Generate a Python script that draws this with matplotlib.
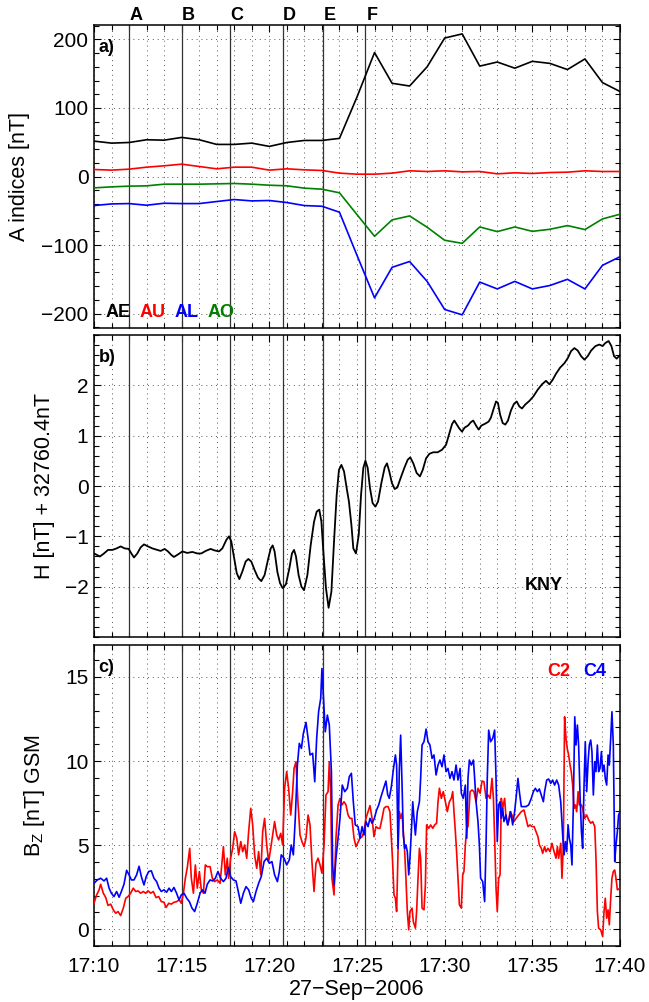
import matplotlib
matplotlib.use("Agg")
import matplotlib.pyplot as plt
from matplotlib.ticker import MultipleLocator, FixedLocator
import matplotlib.transforms as mtransforms

plt.rcParams['font.family'] = ['Liberation Sans', 'DejaVu Sans']

# ---------------- data ----------------
# time axis in minutes after 17:10 UT, 27-Sep-2006
xtick_pos = [0, 5, 10, 15, 20, 25, 30]
xtick_labels = ['17:10', '17:15', '17:20', '17:25', '17:30', '17:35', '17:40']
date_label = '27\u2212Sep\u22122006'

event_names = ['A', 'B', 'C', 'D', 'E', 'F']
event_times = [2.0, 5.0, 7.76, 10.76, 13.04, 15.47]

# panel a: auroral indices, 1-min values
idx_t = list(range(31))
AE = [51.6, 48.7, 49.6, 53.6, 53, 57, 53.6, 46.8, 46.8, 48.7, 43.9, 49.6, 52.6, 52.6,
      55.6, 116, 180.8, 136, 132, 160, 202, 208, 161, 167, 158, 168, 165, 156, 171.5, 137, 124]
AU = [10.2, 9.3, 10.7, 13.6, 15.6, 18, 14.6, 11.2, 13.6, 13.6, 9.3, 11.2, 9.7, 8.8,
      4.9, 3.4, 3.4, 4.9, 8.3, 7.3, 8.3, 6.8, 7.3, 3.9, 5.4, 4.4, 5.8, 6.3, 8.3, 7.3, 7.3]
AL = [-42.4, -40, -39.5, -41.9, -39, -39.5, -39.5, -36.5, -33.6, -35.6, -35, -38, -42.4, -43.4,
      -52.1, -115, -177, -132.5, -124, -153, -194, -201.8, -154, -164, -153, -164, -159, -150,
      -164, -129.6, -117]
AO = [-16.6, -15.1, -14.1, -13.6, -11.2, -11.2, -11.2, -10.7, -10.2, -11.2, -12.7, -13.6, -17,
      -18.5, -23.8, -55.6, -87.2, -63.3, -57.5, -74, -93, -97.5, -73.6, -80.4, -73.6, -80, -77,
      -71.6, -77.4, -61.9, -55]

# panel b: KNY H component
H_t = [0, 0.34, 0.57, 0.80, 1.05, 1.29, 1.52, 1.75, 1.98, 2.13,
       2.28, 2.47, 2.66, 2.85, 3.08, 3.33, 3.61, 3.80, 4.03, 4.22,
       4.41, 4.56, 4.79, 5.04, 5.32, 5.61, 5.89, 6.12, 6.37, 6.65,
       6.88, 7.13, 7.32, 7.55, 7.70, 7.83, 7.98, 8.14, 8.29, 8.46,
       8.65, 8.80, 8.97, 9.16, 9.35, 9.54, 9.73, 9.92, 10.08, 10.19,
       10.30, 10.46, 10.61, 10.76, 10.95, 11.14, 11.29, 11.41, 11.52, 11.67,
       11.83, 11.98, 12.17, 12.36, 12.55, 12.70, 12.85, 12.97, 13.08, 13.23,
       13.38, 13.54, 13.69, 13.84, 13.97, 14.11, 14.26, 14.41, 14.54, 14.68,
       14.79, 14.94, 15.10, 15.23, 15.36, 15.48, 15.61, 15.74, 15.89, 16.05,
       16.20, 16.39, 16.58, 16.71, 16.84, 16.99, 17.15, 17.30, 17.49, 17.70,
       17.89, 18.04, 18.21, 18.40, 18.59, 18.75, 18.94, 19.13, 19.35, 19.60,
       19.85, 20.08, 20.27, 20.42, 20.55, 20.68, 20.84, 20.99, 21.14, 21.33,
       21.50, 21.63, 21.79, 21.94, 22.09, 22.32, 22.51, 22.64, 22.78, 22.93,
       23.04, 23.16, 23.31, 23.46, 23.61, 23.78, 23.95, 24.11, 24.26, 24.41,
       24.60, 24.83, 25.06, 25.30, 25.55, 25.78, 25.97, 26.16, 26.35, 26.58,
       26.83, 27.02, 27.21, 27.40, 27.59, 27.78, 27.97, 28.16, 28.35, 28.60,
       28.82, 29.01, 29.16, 29.35, 29.51, 29.66, 29.81, 30.0]
H_v = [-1.34, -1.40, -1.34, -1.27, -1.27, -1.24, -1.20, -1.24, -1.25, -1.34,
       -1.42, -1.34, -1.22, -1.16, -1.20, -1.24, -1.27, -1.29, -1.25, -1.30,
       -1.37, -1.41, -1.36, -1.30, -1.33, -1.31, -1.34, -1.34, -1.29, -1.25,
       -1.28, -1.30, -1.24, -1.07, -1.00, -1.10, -1.40, -1.73, -1.85, -1.70,
       -1.50, -1.45, -1.50, -1.67, -1.82, -1.89, -1.77, -1.47, -1.24, -1.18,
       -1.30, -1.71, -1.93, -2.03, -1.95, -1.64, -1.34, -1.27, -1.40, -1.77,
       -2.00, -2.07, -1.77, -1.17, -0.71, -0.51, -0.47, -0.71, -1.30, -2.03,
       -2.42, -2.10, -1.10, -0.18, 0.32, 0.42, 0.29, -0.04, -0.31, -0.77,
       -1.24, -1.34, -0.97, -0.18, 0.36, 0.50, 0.36, -0.04, -0.34, -0.41,
       -0.31, 0.06, 0.37, 0.45, 0.29, 0.06, -0.06, -0.03, 0.16, 0.36,
       0.52, 0.57, 0.45, 0.26, 0.19, 0.32, 0.55, 0.64, 0.67, 0.67,
       0.72, 0.82, 1.05, 1.23, 1.30, 1.23, 1.14, 1.08, 1.16, 1.20,
       1.27, 1.30, 1.20, 1.12, 1.20, 1.24, 1.28, 1.36, 1.52, 1.68,
       1.65, 1.42, 1.25, 1.22, 1.30, 1.50, 1.63, 1.68, 1.58, 1.54,
       1.62, 1.69, 1.78, 1.91, 2.02, 2.09, 2.02, 2.11, 2.23, 2.35,
       2.44, 2.54, 2.68, 2.74, 2.69, 2.58, 2.51, 2.58, 2.69, 2.78,
       2.81, 2.78, 2.84, 2.88, 2.78, 2.58, 2.53, 2.60]

# panel c: Cluster Bz GSM, C2 (red) and C4 (blue)
C4_t = [0.00, 0.19, 0.38, 0.57, 0.72, 0.86, 0.99, 1.14, 1.29, 1.43,
        1.56, 1.71, 1.86, 2.00, 2.13, 2.28, 2.43, 2.57, 2.70, 2.85,
        2.98, 3.12, 3.27, 3.42, 3.57, 3.71, 3.84, 3.99, 4.14, 4.28,
        4.41, 4.56, 4.71, 4.85, 4.98, 5.13, 5.29, 5.44, 5.59, 5.74,
        5.89, 6.05, 6.18, 6.33, 6.46, 6.62, 6.77, 6.92, 7.07, 7.22,
        7.38, 7.53, 7.66, 7.79, 7.95, 8.10, 8.25, 8.37, 8.52, 8.67,
        8.82, 8.97, 9.09, 9.24, 9.39, 9.54, 9.70, 9.85, 10.00, 10.15,
        10.30, 10.46, 10.57, 10.68, 10.84, 10.99, 11.14, 11.25, 11.37, 11.48,
        11.60, 11.71, 11.83, 11.94, 12.09, 12.21, 12.32, 12.47, 12.59, 12.70,
        12.81, 12.93, 13.00, 13.08, 13.19, 13.31, 13.42, 13.54, 13.61, 13.69,
        13.80, 13.92, 14.03, 14.16, 14.30, 14.45, 14.56, 14.68, 14.79, 14.90,
        15.06, 15.17, 15.29, 15.40, 15.51, 15.63, 15.74, 15.86, 15.99, 16.12,
        16.24, 16.37, 16.46, 16.58, 16.65, 16.75, 16.84, 16.96, 17.07, 17.19,
        17.26, 17.34, 17.41, 17.49, 17.57, 17.64, 17.72, 17.79, 17.87, 17.95,
        18.02, 18.10, 18.18, 18.25, 18.33, 18.44, 18.56, 18.63, 18.71, 18.82,
        18.94, 19.05, 19.16, 19.28, 19.39, 19.51, 19.62, 19.73, 19.85, 19.96,
        20.08, 20.19, 20.30, 20.42, 20.53, 20.65, 20.76, 20.88, 20.95, 21.06,
        21.18, 21.26, 21.33, 21.41, 21.52, 21.64, 21.71, 21.79, 21.90, 21.98,
        22.05, 22.17, 22.28, 22.36, 22.43, 22.51, 22.62, 22.74, 22.85, 22.93,
        23.00, 23.08, 23.16, 23.23, 23.31, 23.38, 23.50, 23.59, 23.69, 23.76,
        23.88, 23.99, 24.07, 24.18, 24.26, 24.37, 24.49, 24.64, 24.79, 24.94,
        25.06, 25.17, 25.29, 25.40, 25.51, 25.63, 25.70, 25.82, 25.93, 26.05,
        26.16, 26.27, 26.39, 26.50, 26.62, 26.73, 26.81, 26.88, 26.96, 27.04,
        27.11, 27.19, 27.26, 27.34, 27.42, 27.49, 27.57, 27.64, 27.72, 27.80,
        27.87, 27.95, 28.02, 28.10, 28.18, 28.25, 28.33, 28.40, 28.48, 28.56,
        28.63, 28.71, 28.78, 28.86, 28.94, 29.01, 29.09, 29.16, 29.24, 29.32,
        29.39, 29.47, 29.54, 29.62, 29.70, 29.77, 29.85, 29.92, 30.00]
C4_bz = [2.73, 2.93, 3.03, 2.87, 3.03, 2.44, 2.14, 1.94, 2.24, 1.90,
         2.24, 2.67, 3.50, 3.23, 2.93, 2.93, 3.23, 3.74, 3.13, 2.63,
         3.13, 3.43, 3.47, 3.03, 2.83, 2.44, 2.24, 2.34, 2.20, 2.44,
         2.24, 2.48, 2.14, 1.74, 2.04, 2.14, 1.84, 1.64, 1.25, 1.05,
         1.54, 2.14, 2.34, 2.14, 2.67, 2.93, 2.87, 3.03, 3.43, 3.03,
         2.83, 3.03, 3.66, 3.13, 2.93, 2.87, 2.14, 1.54, 2.14, 2.53,
         2.34, 1.84, 1.64, 2.24, 2.73, 3.13, 4.02, 4.22, 3.92, 4.02,
         3.23, 2.83, 3.43, 4.42, 4.22, 3.82, 4.12, 5.01, 4.42, 6.59,
         9.76, 11.05, 10.75, 11.64, 12.30, 11.35, 10.36, 10.46, 8.77, 11.35,
         12.93, 13.72, 15.50, 13.92, 11.74, 12.73, 12.14, 9.37, 3.82, 2.63,
         4.22, 5.41, 6.59, 8.57, 8.18, 8.38, 9.07, 9.27, 7.58, 6.20,
         6.10, 5.41, 6.10, 5.60, 6.40, 6.10, 6.59, 6.30, 6.59, 7.09,
         7.39, 7.88, 8.18, 8.57, 8.81, 8.0, 7.78, 8.48, 9.47, 10.36,
         9.76, 4.81, 9.37, 11.54, 8.57, 5.60, 4.81, 5.01, 4.61, 3.23,
         4.22, 5.80, 7.58, 6.59, 5.60, 6.99, 7.58, 8.97, 10.95, 11.15,
         11.90, 11.15, 10.95, 10.16, 10.36, 9.17, 9.76, 10.06, 9.66, 10.36,
         9.37, 9.56, 8.97, 9.37, 8.87, 9.76, 8.87, 9.56, 8.08, 7.78,
         8.57, 5.41, 8.97, 10.06, 9.76, 10.06, 8.97, 7.58, 6.40, 5.01,
         3.03, 2.83, 1.64, 5.01, 8.97, 11.84, 11.15, 11.35, 11.84, 8.97,
         5.21, 7.39, 7.58, 6.59, 7.19, 6.40, 6.79, 6.20, 6.59, 6.99,
         6.20, 6.99, 7.78, 8.97, 8.18, 7.29, 7.29, 7.29, 7.39, 7.78,
         8.18, 8.38, 8.18, 8.34, 7.98, 7.58, 8.18, 8.87, 8.93, 8.67,
         8.87, 8.57, 8.87, 8.57, 7.58, 5.60, 4.42, 5.21, 4.61, 6.20,
         5.41, 5.01, 3.82, 7.39, 12.63, 10.95, 12.14, 10.95, 7.98, 5.80,
         4.81, 8.57, 11.15, 8.18, 9.96, 10.95, 11.25, 10.56, 7.98, 9.96,
         9.37, 10.95, 9.37, 9.56, 10.56, 9.37, 9.76, 8.97, 8.57, 10.36,
         9.76, 11.35, 12.93, 10.95, 4.02, 5.01, 5.80, 6.79, 6.99]

C2_t = [0.00, 0.15, 0.29, 0.38, 0.53, 0.67, 0.80, 0.95, 1.10, 1.24,
        1.37, 1.52, 1.67, 1.81, 1.94, 2.09, 2.24, 2.38, 2.51, 2.66,
        2.81, 2.95, 3.08, 3.23, 3.38, 3.54, 3.69, 3.84, 3.99, 4.11,
        4.26, 4.41, 4.56, 4.71, 4.87, 4.98, 5.10, 5.21, 5.32, 5.46,
        5.55, 5.67, 5.78, 5.89, 6.01, 6.12, 6.24, 6.35, 6.46, 6.62,
        6.75, 6.88, 7.03, 7.19, 7.30, 7.38, 7.49, 7.60, 7.68, 7.79,
        7.91, 8.02, 8.14, 8.25, 8.37, 8.48, 8.59, 8.71, 8.82, 8.94,
        9.05, 9.16, 9.28, 9.39, 9.51, 9.62, 9.73, 9.85, 9.96, 10.08,
        10.19, 10.30, 10.42, 10.53, 10.65, 10.76, 10.87, 10.99, 11.10, 11.22,
        11.33, 11.41, 11.52, 11.63, 11.75, 11.86, 11.98, 12.09, 12.21, 12.32,
        12.43, 12.55, 12.66, 12.78, 12.89, 13.00, 13.12, 13.23, 13.35, 13.42,
        13.50, 13.57, 13.69, 13.80, 13.92, 14.03, 14.14, 14.26, 14.37, 14.49,
        14.60, 14.71, 14.83, 14.94,
        15.17, 15.29, 15.40, 15.51, 15.63, 15.74, 15.86, 15.97, 16.08, 16.20,
        16.31, 16.43, 16.54, 16.65, 16.77, 16.88, 16.96, 17.03, 17.11, 17.19,
        17.26, 17.34, 17.41, 17.49, 17.57, 17.64, 17.72, 17.79, 17.87, 17.95,
        18.02, 18.14, 18.21, 18.33, 18.40, 18.48, 18.56, 18.63, 18.71, 18.82,
        18.90, 18.97, 19.09, 19.20, 19.32, 19.43, 19.54, 19.62, 19.70, 19.81,
        19.92, 20.04, 20.15, 20.27, 20.38, 20.46, 20.53, 20.61, 20.68, 20.76,
        20.84, 20.95, 21.03, 21.10, 21.18, 21.26, 21.33, 21.45, 21.56, 21.67,
        21.79, 21.90, 22.02, 22.13, 22.24, 22.36, 22.47, 22.59, 22.70, 22.78,
        22.85, 22.93, 23.00, 23.08, 23.16, 23.23, 23.31, 23.42, 23.50, 23.61,
        23.73, 23.84, 23.95, 24.07, 24.22, 24.37, 24.52, 24.64, 24.75, 24.87,
        24.98, 25.10, 25.21, 25.32, 25.40, 25.51, 25.59, 25.70, 25.78, 25.89,
        26.01, 26.12, 26.24, 26.35, 26.43, 26.50, 26.62, 26.69, 26.77, 26.84,
        26.92, 26.99, 27.07, 27.15, 27.22, 27.30, 27.38, 27.45, 27.53, 27.61,
        27.68, 27.80, 27.87, 27.98, 28.10, 28.21, 28.33, 28.44, 28.56, 28.63,
        28.71, 28.78, 28.90, 29.01, 29.09, 29.16, 29.24, 29.32, 29.39, 29.47,
        29.54, 29.62, 29.70, 29.77, 29.85, 30.00]
C2_bz = [1.54, 2.04, 2.34, 2.67, 2.14, 1.88, 1.41, 1.49, 1.15, 0.95,
         1.05, 0.81, 1.25, 1.84, 1.94, 2.14, 2.44, 2.24, 2.28, 2.14,
         2.24, 2.14, 2.28, 2.14, 2.24, 1.88, 1.94, 1.64, 1.60, 1.29,
         1.54, 1.49, 1.60, 1.64, 1.74, 1.54, 2.14, 3.03, 3.66, 4.81,
         3.03, 2.14, 3.82, 2.44, 3.43, 2.34, 2.14, 3.82, 3.72, 3.72,
         3.03, 2.83, 2.93, 2.73, 4.02, 4.91, 3.23, 4.22, 3.03, 4.22,
         4.81, 5.80, 5.41, 4.42, 5.21, 4.61, 5.01, 4.22, 5.80, 7.19,
         6.20, 4.42, 3.62, 4.61, 3.23, 5.80, 6.59, 5.01, 4.02, 4.81,
         5.60, 6.40, 5.60, 5.31, 5.70, 5.01, 8.38, 9.37, 8.38, 6.79,
         8.18, 9.56, 9.96, 7.58, 5.60, 5.21, 4.91, 5.41, 6.79, 6.20,
         4.02, 2.24, 3.92, 4.22, 3.82, 3.33, 5.01, 7.98, 8.18, 9.96,
         8.18, 3.03, 2.04, 5.41, 7.39, 7.78, 7.39, 7.58, 7.39, 6.79,
         6.59, 6.59, 5.41, 4.91,
         5.41, 5.50, 5.80, 6.59, 6.99, 7.35, 6.59, 5.50, 6.10, 6.00,
         6.00, 6.59, 7.19, 7.29, 7.29, 6.99, 5.41, 4.02, 2.04, 1.84,
         1.05, 4.61, 6.99, 6.59, 6.89, 5.80, 4.61, 3.03, 1.05, -0.04,
         1.05, 1.25, 0.46, 0.06, 1.05, 3.03, 4.81, 4.22, 1.25, 1.15,
         2.63, 6.20, 6.00, 6.20, 6.00, 6.20, 6.30, 7.58, 8.38, 7.78,
         8.18, 7.58, 6.99, 7.58, 7.78, 8.18, 6.99, 5.80, 4.61, 3.03,
         1.45, 1.25, 3.23, 3.43, 5.01, 6.00, 6.10, 8.18, 8.28, 8.18,
         7.58, 8.38, 8.08, 8.81, 8.77, 7.78, 7.98, 7.78, 8.97, 7.78,
         5.41, 2.44, 1.05, 3.03, 3.23, 7.78, 7.19, 7.78, 6.59, 6.20,
         6.99, 6.79, 6.40, 6.59, 6.79, 6.99, 7.09, 6.59, 6.10, 6.20,
         6.10, 6.10, 5.80, 5.50, 5.01, 4.81, 4.51, 4.91, 4.61, 4.81,
         4.61, 5.11, 4.61, 4.22, 4.91, 4.22, 5.11, 3.03, 5.01, 12.63,
         11.35, 10.75, 10.36, 9.76, 9.37, 8.57, 7.19, 7.39, 6.99, 8.18,
         7.39, 7.39, 7.19, 6.59, 6.79, 6.50, 6.30, 6.40, 6.10, 4.22,
         1.05, 0.06, -0.04, -0.44, 1.05, 1.84, 0.65, 1.15, 0.26, 1.84,
         3.03, 3.43, 3.52, 3.03, 2.34, 2.44]

# ---------------- figure ----------------
fig = plt.figure(figsize=(6.49, 10.02), dpi=100)
L, W = 94 / 649, 526 / 649
axa = fig.add_axes([L, 1 - 328 / 1002, W, 303 / 1002])
axb = fig.add_axes([L, 1 - 637 / 1002, W, 302 / 1002])
axc = fig.add_axes([L, 1 - 946 / 1002, W, 301 / 1002])

grid_kw = dict(color='0.35', linestyle=(0, (1, 4)), linewidth=0.7)
event_kw = dict(color='0.2', linewidth=0.9, zorder=1)
TICK_FS = 15
LABEL_FS = 15.5
BOLD_FS = 13

for ax in (axa, axb, axc):
    ax.set_xlim(0, 30)
    ax.xaxis.set_major_locator(FixedLocator(xtick_pos))
    ax.xaxis.set_minor_locator(MultipleLocator(1))
    ax.tick_params(which='both', direction='in', top=True, right=True,
                   labelsize=TICK_FS, width=0.8)
    ax.tick_params(axis='y', pad=4)
    ax.tick_params(axis='x', pad=8)
    ax.tick_params(which='major', length=5)
    ax.tick_params(which='minor', length=3.5)
    ax.grid(True, which='both', axis='x', **grid_kw)
    ax.grid(True, which='major', axis='y', **grid_kw)
    ax.set_axisbelow(True)
    for sp in ax.spines.values():
        sp.set_linewidth(1.1)
    for t in event_times:
        ax.axvline(t, **event_kw)
    if ax is not axc:
        ax.set_xticklabels([])

# panel a
axa.plot(idx_t, AE, color='black', lw=1.2, zorder=3)
axa.plot(idx_t, AU, color='red', lw=1.2, zorder=3)
axa.plot(idx_t, AL, color='blue', lw=1.2, zorder=3)
axa.plot(idx_t, AO, color='green', lw=1.2, zorder=3)
axa.set_ylim(-221, 221)
axa.yaxis.set_major_locator(FixedLocator([-200, -100, 0, 100, 200]))
axa.yaxis.set_minor_locator(MultipleLocator(20))
axa.set_ylabel('A indices [nT]', fontsize=LABEL_FS)
axa.yaxis.set_label_coords(-0.122, 0.5)
axa.text(0.009, 0.927, 'a)', transform=axa.transAxes, fontsize=BOLD_FS, fontweight='bold',
         va='center', ha='left')
for name, col, xf in [('AE', 'black', 0.022), ('AU', 'red', 0.087),
                      ('AL', 'blue', 0.153), ('AO', 'green', 0.216)]:
    axa.text(xf, 0.052, name, color=col, transform=axa.transAxes, fontsize=BOLD_FS,
             fontweight='bold', va='center', ha='left')
trans = mtransforms.blended_transform_factory(axa.transData, axa.transAxes)
for name, t in zip(event_names, event_times):
    axa.text(t + 0.4, 1.03, name, transform=trans, fontsize=BOLD_FS, fontweight='bold',
             ha='center', va='center')

# panel b
axb.plot(H_t, H_v, color='black', lw=1.3, zorder=3)
axb.set_ylim(-3, 3)
axb.yaxis.set_major_locator(FixedLocator([-2, -1, 0, 1, 2]))
axb.yaxis.set_minor_locator(MultipleLocator(0.2))
axb.set_ylabel('H [nT] + 32760.4nT', fontsize=LABEL_FS)
axb.yaxis.set_label_coords(-0.075, 0.5)
axb.text(0.009, 0.924, 'b)', transform=axb.transAxes, fontsize=BOLD_FS, fontweight='bold',
         va='center', ha='left')
axb.text(0.818, 0.172, 'KNY', transform=axb.transAxes, fontsize=BOLD_FS, fontweight='bold',
         va='center', ha='left')

# panel c
axc.plot(C2_t, C2_bz, color='red', lw=1.2, zorder=3)
axc.plot(C4_t, C4_bz, color='blue', lw=1.2, zorder=3)
axc.set_ylim(-1, 16.9)
axc.yaxis.set_major_locator(FixedLocator([0, 5, 10, 15]))
axc.yaxis.set_minor_locator(MultipleLocator(1))
axc.set_ylabel('B$_\\mathregular{Z}$ [nT] GSM', fontsize=LABEL_FS)
axc.yaxis.set_label_coords(-0.09, 0.5)
axc.text(0.009, 0.925, 'c)', transform=axc.transAxes, fontsize=BOLD_FS, fontweight='bold',
         va='center', ha='left')
axc.text(0.862, 0.911, 'C2', color='red', transform=axc.transAxes, fontsize=BOLD_FS,
         fontweight='bold', va='center', ha='left')
axc.text(0.93, 0.911, 'C4', color='blue', transform=axc.transAxes, fontsize=BOLD_FS,
         fontweight='bold', va='center', ha='left')
axc.set_xticklabels(xtick_labels)
axc.set_xlabel(date_label, fontsize=LABEL_FS, labelpad=2)

fig.savefig('out.png', dpi=100)
